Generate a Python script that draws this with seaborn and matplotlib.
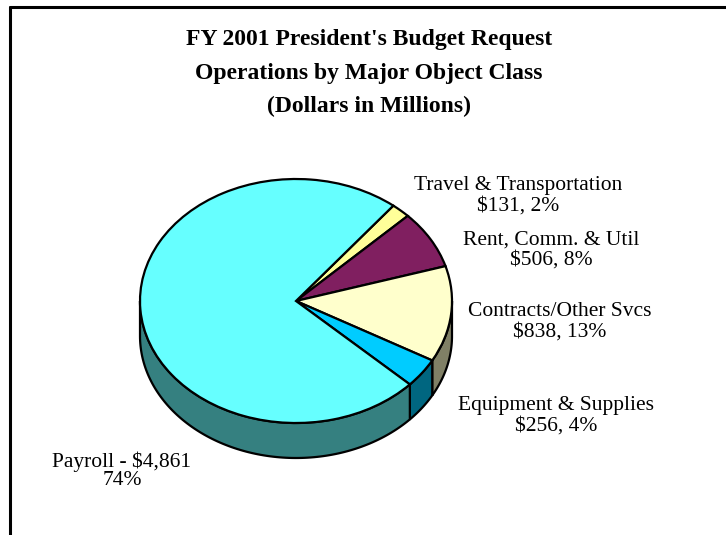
import numpy as np
import matplotlib
matplotlib.use("Agg")
import matplotlib.pyplot as plt
from matplotlib.lines import Line2D
import seaborn as sns

# Operations by major object class, FY 2001 (dollars in millions)
categories = ["Travel & Transportation", "Rent, Comm. & Util",
              "Contracts/Other Svcs", "Equipment & Supplies", "Payroll"]
values = [131, 506, 838, 256, 4861]

top_colors = ["#FFFF99", "#801F60", "#FFFFCC", "#00CCFF", "#66FFFF"]
side_colors = ["#80804C", "#400F30", "#808066", "#006680", "#358080"]

sns.set_theme(style="white")
plt.rcParams["font.family"] = ["Liberation Serif", "DejaVu Serif"]

W, H = 726, 535
fig = plt.figure(figsize=(W / 100, H / 100), dpi=100)
fig.patch.set_facecolor("white")

# pie geometry in pixels: centre, radii and rim depth
cx, cy, rx, ry, depth_px = 296, 301, 156, 122, 35
ax = fig.add_axes([0, 0, 1, 1])

total = sum(values)
wedges, _ = ax.pie(values, startangle=51.4, counterclock=False,
                   colors=top_colors, radius=1.0,
                   wedgeprops=dict(edgecolor="black", linewidth=1.6, zorder=3))
ax.set_aspect("auto")
ax.set_xlim(-cx / rx, (W - cx) / rx)
ax.set_ylim(-(H - cy) / ry, cy / ry)
ax.axis("off")

# rim of the tilted pie: only the front half (180..360 deg) is visible
d = depth_px / ry
for w, sc in zip(wedges, side_colors):
    a, b = w.theta1, w.theta2
    for k in (-360, 0, 360):
        lo, hi = max(a + k, 180), min(b + k, 360)
        if hi <= lo:
            continue
        t = np.radians(np.linspace(lo, hi, 120))
        xs = np.concatenate([np.cos(t), np.cos(t[::-1])])
        ys = np.concatenate([np.sin(t), np.sin(t[::-1]) - d])
        ax.fill(xs, ys, facecolor=sc, edgecolor="black", linewidth=1.6,
                zorder=2)

# slice labels
def amount_pct(i):
    return f"${values[i]:,}, {round(100 * values[i] / total)}%"

label_pos = {0: (518, 196), 1: (551, 250), 2: (560, 322), 3: (556, 416)}
for i, (px, py) in label_pos.items():
    fig.text(px / W, 1 - py / H, f"{categories[i]}\n{amount_pct(i)}",
             ha="center", va="center", fontsize=15.5, linespacing=1.12,
             color="black")
fig.text(122 / W, 1 - 471 / H,
         f"{categories[4]} - ${values[4]:,}\n{round(100 * values[4] / total)}%",
         ha="center", va="center", fontsize=15.5, linespacing=0.9,
         color="black")

# title block
titles = ["FY 2001 President's Budget Request",
          "Operations by Major Object Class",
          "(Dollars in Millions)"]
for s, py in zip(titles, [40, 73, 106]):
    fig.text(369 / W, 1 - py / H, s, ha="center", va="center",
             fontsize=17, fontweight="bold", color="black")

# frame lines along the top and left edges
fig.add_artist(Line2D([9.5 / W, 1], [1 - 6.5 / H] * 2, color="black",
                      linewidth=2.2, transform=fig.transFigure))
fig.add_artist(Line2D([9.5 / W] * 2, [0, 1 - 6.5 / H], color="black",
                      linewidth=2.2, transform=fig.transFigure))

fig.savefig("out.png", dpi=100, facecolor="white")
